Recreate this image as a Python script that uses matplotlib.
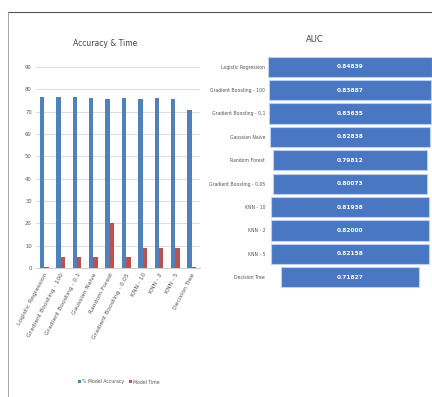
import matplotlib
matplotlib.use("Agg")
import matplotlib.pyplot as plt
from matplotlib.lines import Line2D
import numpy as np

plt.rcParams['font.family'] = ['Liberation Sans Narrow', 'DejaVu Sans']

models = ["Logistic Regression", "Gradient Boosting - 100", "Gradient Boosting - 0.1",
          "Gaussian Naive", "Random Forest", "Gradient Boosting - 0.05",
          "KNN - 10", "KNN - 2", "KNN - 5", "Decision Tree"]
accuracy = [76.5, 76.5, 76.6, 75.9, 75.8, 76.0, 75.8, 75.9, 75.8, 70.9]
run_time = [0.5, 4.8, 4.8, 4.8, 20.2, 4.8, 9.0, 9.0, 9.0, 0.5]
auc = [0.84839, 0.83887, 0.83635, 0.82838, 0.79812, 0.80073,
       0.81938, 0.82000, 0.82158, 0.71827]
y_ticks = [0, 10, 20, 30, 40, 50, 60, 70, 80, 90]

blue = "#4F81BD"
red = "#C0504D"
funnel_blue = "#4A77C2"
W, H = 432, 397

fig = plt.figure(figsize=(4.32, 3.97), dpi=100)

# frame lines around the sheet
fig.add_artist(Line2D([8 / W, 1], [1 - 12 / H, 1 - 12 / H], color="#555555", lw=0.8))
fig.add_artist(Line2D([8 / W, 8 / W], [0, 1 - 12 / H], color="#999999", lw=0.6))

# --- accuracy & time clustered columns ---
ax = fig.add_axes([36 / W, 129 / H, 164 / W, 201 / H])
x = np.arange(len(models))
w = 0.27
ax.bar(x - w / 2, accuracy, w, color=blue, label="% Model Accuracy", zorder=3)
ax.bar(x + w / 2, run_time, w, color=red, label="Model Time", zorder=3)
ax.set_xlim(-0.5, len(models) - 0.5)
ax.set_ylim(0, 90)
ax.set_yticks(y_ticks)
ax.set_yticklabels([str(t) for t in y_ticks], fontsize=3.8, color="#555555")
ax.yaxis.grid(True, color="#D0D8E4", lw=0.6, zorder=0)
ax.set_xticks(x)
ax.set_xticklabels(models, rotation=62, ha="right", rotation_mode="anchor",
                   fontsize=4.3, color="#555555")
ax.tick_params(length=0, pad=3)
for s in ["top", "right", "left"]:
    ax.spines[s].set_visible(False)
ax.spines["bottom"].set_color("#BBBBBB")
ax.spines["bottom"].set_linewidth(0.5)
fig.text(105 / W, 1 - 43 / H, "Accuracy & Time", ha="center", va="center",
         fontsize=5.5, color="#444444")
fig.legend(loc="center", bbox_to_anchor=(119 / W, 1 - 382 / H), ncol=2,
           fontsize=3.3, frameon=False, handlelength=0.6, handleheight=0.6,
           columnspacing=1.0, handletextpad=0.3, labelcolor="#555555")

# --- AUC funnel ---
ax2 = fig.add_axes([268 / W, 108 / H, 164 / W, 234 / H])
yy = np.arange(len(models))
auc_arr = np.array(auc)
ax2.barh(yy, auc_arr, left=-auc_arr / 2, height=0.86, color=funnel_blue,
         edgecolor="#BFD0EE", linewidth=0.8)
for yi, v in zip(yy, auc):
    ax2.text(0, yi, f"{v:.5f}", ha="center", va="center", fontsize=4.2,
             color="white", fontweight="bold")
ax2.set_xlim(-0.424, 0.424)
ax2.set_ylim(len(models) - 0.5, -0.5)
ax2.set_yticks(yy)
ax2.set_yticklabels(models, fontsize=3.3, color="#555555")
ax2.set_xticks([])
ax2.tick_params(length=0, pad=2)
for s in ax2.spines.values():
    s.set_visible(False)
fig.text(315 / W, 1 - 40 / H, "AUC", ha="center", va="center",
         fontsize=6, color="#444444")

fig.savefig("out.png", dpi=100)
